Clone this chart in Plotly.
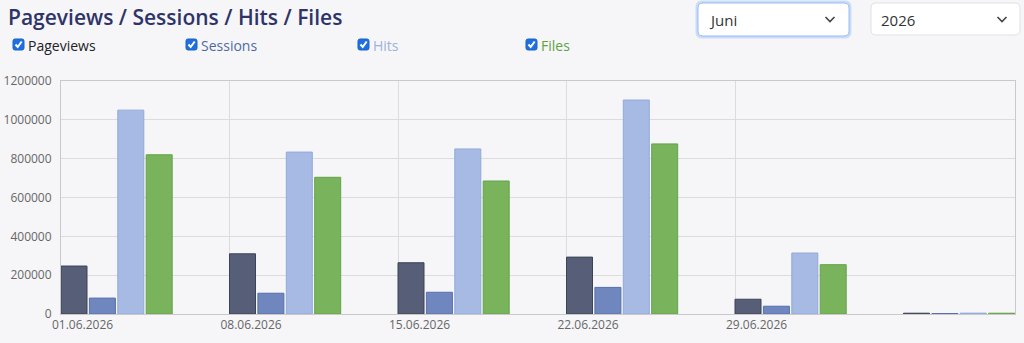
import plotly.graph_objects as go

# ---- data ----
week_labels = ["01.06.2026", "08.06.2026", "15.06.2026", "22.06.2026", "29.06.2026", ""]
pageviews = [247000, 310000, 264000, 293000, 76000, 4000]
sessions = [82000, 107000, 112000, 137000, 40000, 2500]
hits = [1050000, 834000, 850000, 1102000, 314000, 4500]
files = [820000, 704000, 685000, 876000, 254000, 4000]

series_names = ["Pageviews", "Sessions", "Hits", "Files"]
series_values = [pageviews, sessions, hits, files]
fill_colors = ["#565f77", "#6f86bf", "#a6bae3", "#79b35c"]
line_colors = ["#3c4357", "#5670ab", "#91a9da", "#66a34a"]
legend_text_colors = ["#222222", "#4f6b9e", "#9cb1dc", "#5fa23f"]

month_label = "Juni"
year_label = "2026"
title_text = "Pageviews / Sessions / Hits / Files"

# ---- layout geometry (pixels) ----
W, H = 1024, 343
L, R, T, B = 61, 1015, 81, 314
PW, PH = R - L, B - T
period = 168.5  # px per group
step = 28.4 / period
bw = 26.0 / period

def px(x):
    return (x - L) / PW

def py(y):
    return (B - y) / PH

idx = list(range(len(week_labels)))

fig = go.Figure()
for k, (name, vals) in enumerate(zip(series_names, series_values)):
    fig.add_trace(go.Bar(
        x=idx, y=vals, name=name, offset=k * step, width=bw,
        marker=dict(color=fill_colors[k], line=dict(color=line_colors[k], width=1)),
        showlegend=False, hoverinfo="skip",
    ))

shapes = []
annotations = []

def rrect(x0, y0, x1, y1, r):
    def P(a, b):
        return f"{px(a):.5f},{py(b):.5f}"
    d = (f"M {P(x0+r, y0)} L {P(x1-r, y0)} Q {P(x1, y0)} {P(x1, y0+r)} "
         f"L {P(x1, y1-r)} Q {P(x1, y1)} {P(x1-r, y1)} L {P(x0+r, y1)} "
         f"Q {P(x0, y1)} {P(x0, y1-r)} L {P(x0, y0+r)} Q {P(x0, y0)} {P(x0+r, y0)} Z")
    return d

# title
annotations.append(dict(text=title_text, x=px(6), y=py(17), xref="paper", yref="paper",
                        xanchor="left", yanchor="middle", showarrow=False,
                        font=dict(family="Open Sans", size=21, color="#2f3468", weight=600)))

# legend checkboxes
cb_x = [13, 186, 358, 526]
for k, name in enumerate(series_names):
    x0 = cb_x[k]
    y0, y1 = 39, 50
    shapes.append(dict(type="path", path=rrect(x0, y0, x0 + 11, y1, 2), xref="paper", yref="paper",
                       fillcolor="#1f6fe0", line=dict(color="#1a62c8", width=1), layer="above"))
    chk = f"M {px(x0+2.5):.5f},{py(44.5):.5f} L {px(x0+4.7):.5f},{py(47):.5f} L {px(x0+8.7):.5f},{py(41.5):.5f}"
    shapes.append(dict(type="path", path=chk, xref="paper", yref="paper",
                       line=dict(color="white", width=2), layer="above"))
    annotations.append(dict(text=name, x=px(x0 + 13), y=py(45.5), xref="paper", yref="paper",
                            xanchor="left", yanchor="middle", showarrow=False,
                            font=dict(family="Open Sans", size=14, color=legend_text_colors[k])))

# dropdowns
shapes.append(dict(type="path", path=rrect(696, 1, 851, 38, 6), xref="paper", yref="paper",
                   fillcolor="#c9dcf8", line=dict(color="#c9dcf8", width=1), layer="above"))
shapes.append(dict(type="path", path=rrect(698, 3, 849, 36, 5), xref="paper", yref="paper",
                   fillcolor="white", line=dict(color="#9dbcf0", width=1), layer="above"))
shapes.append(dict(type="path", path=rrect(871, 3, 1020, 35, 5), xref="paper", yref="paper",
                   fillcolor="white", line=dict(color="#dfe1e6", width=1), layer="above"))
for text, tx, cx in [(month_label, 707, 830), (year_label, 879, 1002)]:
    annotations.append(dict(text=text, x=px(tx), y=py(19.5), xref="paper", yref="paper",
                            xanchor="left", yanchor="middle", showarrow=False,
                            font=dict(family="Open Sans", size=15, color="#333333")))
    chev = f"M {px(cx-4.5):.5f},{py(17):.5f} L {px(cx):.5f},{py(21.5):.5f} L {px(cx+4.5):.5f},{py(17):.5f}"
    shapes.append(dict(type="path", path=chev, xref="paper", yref="paper",
                       line=dict(color="#444444", width=1.6), layer="above"))

label_shift = 21.5 / period
n_lab = sum(1 for s in week_labels if s)

fig.update_layout(
    width=W, height=H,
    margin=dict(l=L, r=W - R, t=T, b=H - B, pad=0, autoexpand=False),
    paper_bgcolor="#f6f6f9", plot_bgcolor="#f6f6f9",
    barmode="overlay",
    shapes=shapes, annotations=annotations,
    font=dict(family="Open Sans", size=12, color="#666666"),
    xaxis=dict(
        range=[0, PW / period], automargin=False,
        tickmode="array",
        tickvals=[i + label_shift for i in idx[:n_lab]],
        ticktext=week_labels[:n_lab],
        showgrid=False, zeroline=False,
        showline=True, mirror=True, linecolor="#c9c9cc", linewidth=1,
        ticks="", ticklen=0,
        tickfont=dict(family="Open Sans", size=12, color="#666666"),
        minor=dict(tickmode="array", tickvals=idx[1:n_lab], showgrid=True,
                   gridcolor="#dcdcdf", gridwidth=1, ticks=""),
        fixedrange=True,
    ),
    yaxis=dict(
        range=[0, 1200000], dtick=200000, tick0=0, tickformat="d", automargin=False,
        showgrid=True, gridcolor="#dcdcdf", gridwidth=1, zeroline=False,
        showline=True, mirror=True, linecolor="#c9c9cc", linewidth=1,
        ticks="", ticklabelstandoff=6,
        tickfont=dict(family="Open Sans", size=12, color="#666666"),
        fixedrange=True,
    ),
)

fig.write_html("out.html", config={"displayModeBar": False})
